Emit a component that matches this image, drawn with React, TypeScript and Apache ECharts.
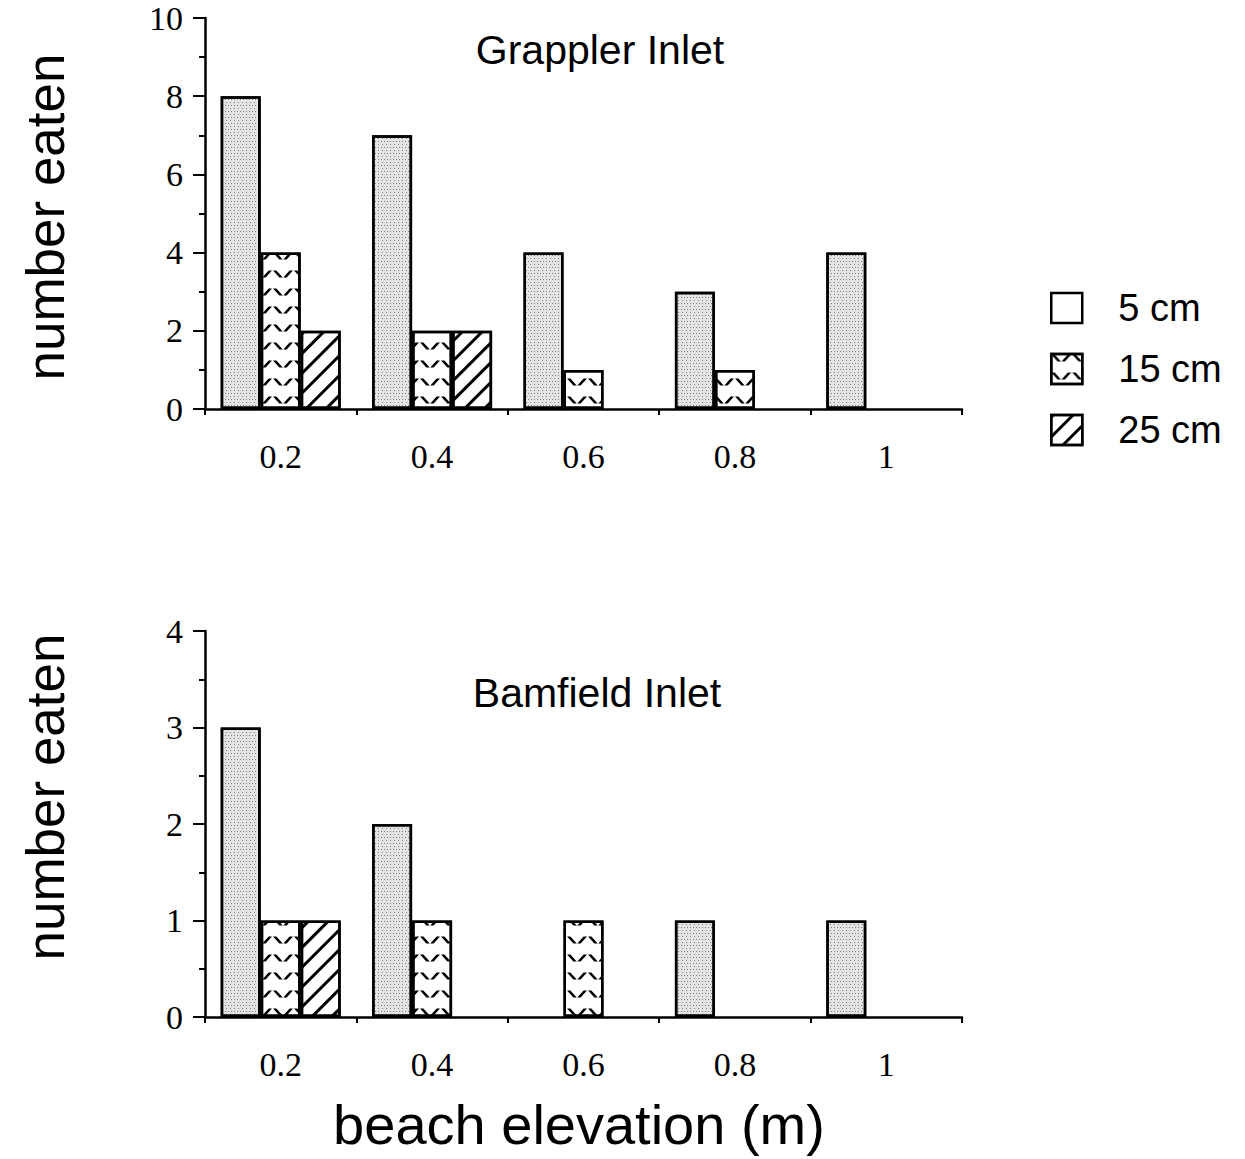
import React, { useEffect, useRef } from "react";
import * as echarts from "echarts";

const categories = ["0.2", "0.4", "0.6", "0.8", "1"];
const sizeNames = ["5 cm", "15 cm", "25 cm"];

const grappler5 = [8, 7, 4, 3, 4];
const grappler15 = [4, 2, 1, 1, null];
const grappler25 = [2, 2, null, null, null];

const bamfield5 = [3, 2, null, 1, 1];
const bamfield15 = [1, 1, 1, null, null];
const bamfield25 = [1, null, null, null, null];

const topTitle = "Grappler Inlet";
const bottomTitle = "Bamfield Inlet";
const yName = "number eaten";
const xName = "beach elevation (m)";

const SANS = "Liberation Sans";
const SERIF = "Liberation Serif";

const stipple = {
  symbol: "rect",
  symbolSize: 1,
  dashArrayX: [[1, 2], [0, 1.5, 1, 0.5]],
  dashArrayY: [1, 1.5],
  color: "rgba(0,0,0,0.45)",
  rotation: 0,
};
const chevron = {
  symbol: "path://M0 0L3.5 0L10 7L6.5 7ZM10.5 7L14 7L20.5 0L17 0Z",
  symbolSize: 1,
  dashArrayX: [20, 0.5],
  dashArrayY: [8, 10],
  color: "#000",
  rotation: 0,
};
const hatch = {
  symbol: "rect",
  symbolSize: 1,
  dashArrayX: [1, 0],
  dashArrayY: [2.5, 10.5],
  color: "#000",
  rotation: -Math.PI / 4,
};

const fills = ["#e4e4e4", "#ffffff", "#ffffff"];
const decals = [stipple, chevron, hatch];

export default function App() {
  const ref = useRef<HTMLDivElement>(null);
  useEffect(() => {
    document.body.style.margin = "0";
    const chart = echarts.init(ref.current!, null, { renderer: "svg" });

    const xAxisBase = (gridIndex: number) => ({
      type: "category",
      gridIndex,
      data: categories,
      axisLine: { lineStyle: { color: "#000", width: 2.5 } },
      axisTick: { show: true, length: 6, lineStyle: { color: "#000", width: 2 } },
      axisLabel: { color: "#000", fontFamily: SERIF, fontSize: 34, margin: 30 },
      splitLine: { show: false },
    });
    const yAxisBase = (gridIndex: number, max: number, interval: number) => ({
      type: "value",
      gridIndex,
      min: 0,
      max,
      interval,
      axisLine: { show: true, lineStyle: { color: "#000", width: 2.5 } },
      axisTick: { show: true, length: 12, lineStyle: { color: "#000", width: 2 } },
      minorTick: { show: true, splitNumber: 2, length: 6, lineStyle: { color: "#000", width: 2 } },
      axisLabel: { color: "#000", fontFamily: SERIF, fontSize: 34, margin: 22 },
      splitLine: { show: false },
    });

    const mk = (name: string, idx: number, data: any[], axisIndex: number) => ({
      type: "bar",
      name,
      xAxisIndex: axisIndex,
      yAxisIndex: axisIndex,
      data,
      barWidth: 40,
      barGap: "0%",
      itemStyle: {
        color: fills[idx],
        borderColor: "#000",
        borderWidth: 2.5,
        decal: decals[idx],
      },
    });

    chart.setOption({
      animation: false,
      backgroundColor: "#fff",
      grid: [
        { left: 205, top: 18, width: 757, height: 391 },
        { left: 205, top: 631, width: 757, height: 386 },
      ],
      xAxis: [xAxisBase(0), xAxisBase(1)],
      yAxis: [yAxisBase(0, 10, 2), yAxisBase(1, 4, 1)],
      legend: {
        orient: "vertical",
        left: 1050,
        top: 289,
        padding: 0,
        icon: "rect",
        itemWidth: 31,
        itemHeight: 30,
        itemGap: 23,
        itemStyle: { borderColor: "#000", borderWidth: 2.5 },
        data: [
          { name: sizeNames[0], itemStyle: { color: "#fff", decal: "none" } },
          { name: sizeNames[1] },
          { name: sizeNames[2] },
        ],
        textStyle: { color: "#000", fontFamily: SANS, fontSize: 38, padding: [0, 0, 0, 31] },
      },
      series: [
        mk(sizeNames[0], 0, grappler5, 0),
        mk(sizeNames[1], 1, grappler15, 0),
        mk(sizeNames[2], 2, grappler25, 0),
        mk(sizeNames[0], 0, bamfield5, 1),
        mk(sizeNames[1], 1, bamfield15, 1),
        mk(sizeNames[2], 2, bamfield25, 1),
      ],
      graphic: [
        {
          type: "text",
          x: 600,
          y: 50,
          style: { text: topTitle, fontFamily: SANS, fontSize: 41, fill: "#000", textAlign: "center", textVerticalAlign: "middle" },
        },
        {
          type: "text",
          x: 597,
          y: 693,
          style: { text: bottomTitle, fontFamily: SANS, fontSize: 41, fill: "#000", textAlign: "center", textVerticalAlign: "middle" },
        },
        {
          type: "text",
          x: 45,
          y: 217,
          rotation: Math.PI / 2,
          style: { text: yName, fontFamily: SANS, fontSize: 53, fill: "#000", textAlign: "center", textVerticalAlign: "middle" },
        },
        {
          type: "text",
          x: 45,
          y: 797,
          rotation: Math.PI / 2,
          style: { text: yName, fontFamily: SANS, fontSize: 53, fill: "#000", textAlign: "center", textVerticalAlign: "middle" },
        },
        {
          type: "text",
          x: 579,
          y: 1124,
          style: { text: xName, fontFamily: SANS, fontSize: 56, fill: "#000", textAlign: "center", textVerticalAlign: "middle" },
        },
      ],
    });
    return () => chart.dispose();
  }, []);
  return <div ref={ref} style={{ width: 1245, height: 1159 }} />;
}
